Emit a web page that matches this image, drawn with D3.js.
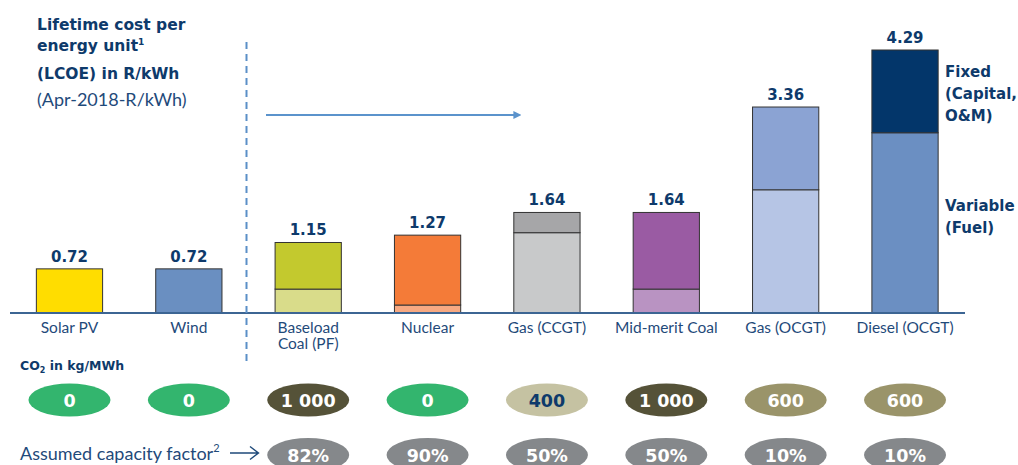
<!DOCTYPE html>
<html>
<head>
<meta charset="utf-8">
<script src="https://cdn.jsdelivr.net/npm/d3@7"></script>
<style>
  body { margin: 0; background: #fff; }
  svg text { font-family: Lato, "Open Sans", sans-serif; }
  svg text.heavy { font-family: "DejaVu Sans", sans-serif; font-weight: bold; }
</style>
</head>
<body>
<div id="chartEl"></div>
<script>
const categories = ['Solar PV', 'Wind', 'Baseload\nCoal (PF)', 'Nuclear', 'Gas (CCGT)', 'Mid-merit Coal', 'Gas (OCGT)', 'Diesel (OCGT)'];
const variableCost = [0, 0, 0.39, 0.13, 1.31, 0.39, 2.01, 2.94];
const fixedCost = [0.72, 0.72, 0.76, 1.14, 0.33, 1.25, 1.35, 1.35];
const totalLabels = ['0.72', '0.72', '1.15', '1.27', '1.64', '1.64', '3.36', '4.29'];
const fixedColors = ['#ffdd00', '#6a8fc1', '#c3c92e', '#f47b38', '#a6a6a8', '#9a5ba3', '#8ba3d3', '#03366a'];
const variableColors = ['#ffdd00', '#6a8fc1', '#d9dc8a', '#f7a982', '#c8c9ca', '#b993c2', '#b6c5e5', '#6b8fc2'];
const co2 = ['0', '0', '1 000', '0', '400', '1 000', '600', '600'];
const co2Colors = ['#33b56e', '#33b56e', '#555238', '#33b56e', '#c5c2a2', '#555238', '#9a946a', '#9a946a'];
const co2Text = ['#fff', '#fff', '#fff', '#fff', '#0e3a6b', '#fff', '#fff', '#fff'];
const capacity = [null, null, '82%', '90%', '50%', '50%', '10%', '10%'];

const width = 1018;
const height = 465;
const navy = '#0e3a6b';
const baseY = 313;

const svg = d3.select('#chartEl').append('svg')
  .attr('width', width)
  .attr('height', height);

const x = d3.scaleBand()
  .domain(d3.range(categories.length))
  .range([9.5, 965])
  .paddingInner(0.445)
  .paddingOuter(0.225);

const y = d3.scaleLinear()
  .domain([0, 4.29])
  .range([baseY, 50]);

// bars
const bar = svg.selectAll('.bar')
  .data(categories)
  .enter().append('g')
  .attr('class', 'bar');

bar.append('rect')
  .attr('x', (d, i) => x(i))
  .attr('y', (d, i) => y(variableCost[i]))
  .attr('width', x.bandwidth())
  .attr('height', (d, i) => baseY - y(variableCost[i]))
  .attr('fill', (d, i) => variableColors[i])
  .attr('stroke', '#333')
  .attr('stroke-width', 1);

bar.append('rect')
  .attr('x', (d, i) => x(i))
  .attr('y', (d, i) => y(variableCost[i] + fixedCost[i]))
  .attr('width', x.bandwidth())
  .attr('height', (d, i) => y(variableCost[i]) - y(variableCost[i] + fixedCost[i]))
  .attr('fill', (d, i) => fixedColors[i])
  .attr('stroke', '#333')
  .attr('stroke-width', 1);

bar.append('text')
  .attr('class', 'heavy')
  .attr('x', (d, i) => x(i) + x.bandwidth() / 2)
  .attr('y', (d, i) => y(variableCost[i] + fixedCost[i]) - 7)
  .attr('text-anchor', 'middle')
  .attr('font-size', 15)
  .attr('fill', navy)
  .text((d, i) => totalLabels[i]);

// axis line
svg.append('line')
  .attr('x1', 10).attr('x2', 965)
  .attr('y1', baseY).attr('y2', baseY)
  .attr('stroke', '#3c6593')
  .attr('stroke-width', 2);

// category labels
const cat = svg.selectAll('.cat')
  .data(categories)
  .enter().append('text')
  .attr('class', 'cat')
  .attr('text-anchor', 'middle')
  .attr('font-size', 15.5)
  .attr('fill', '#1f4a7a')
  .attr('transform', (d, i) => 'translate(' + (x(i) + x.bandwidth() / 2) + ',333)');

cat.selectAll('tspan')
  .data(d => d.split('\n'))
  .enter().append('tspan')
  .attr('x', 0)
  .attr('dy', (d, i) => i ? 16 : 0)
  .text(d => d);

// dashed separator
svg.append('line')
  .attr('x1', 246.5).attr('x2', 246.5)
  .attr('y1', 42).attr('y2', 366)
  .attr('stroke', '#5b8fc7')
  .attr('stroke-width', 2)
  .attr('stroke-dasharray', '7,5');

// arrow
svg.append('defs').append('marker')
  .attr('id', 'arr')
  .attr('viewBox', '0 0 10 10')
  .attr('refX', 2).attr('refY', 5)
  .attr('markerWidth', 4).attr('markerHeight', 4)
  .attr('orient', 'auto')
  .append('path')
  .attr('d', 'M0,0L10,5L0,10z')
  .attr('fill', '#5b93cc');

svg.append('line')
  .attr('x1', 266).attr('x2', 515)
  .attr('y1', 115).attr('y2', 115)
  .attr('stroke', '#5b93cc')
  .attr('stroke-width', 2)
  .attr('marker-end', 'url(#arr)');

// title
const title = svg.append('text')
  .attr('class', 'heavy')
  .attr('fill', navy)
  .attr('font-size', 15.5);
title.append('tspan').attr('x', 37).attr('y', 30).text('Lifetime cost per');
title.append('tspan').attr('x', 37).attr('y', 51).text('energy unit');
title.append('tspan').attr('font-size', 9).attr('dy', -6).text('1');
title.append('tspan').attr('x', 37).attr('y', 79).text('(LCOE) in R/kWh');

svg.append('text')
  .attr('x', 37).attr('y', 106)
  .attr('fill', '#1f4a7a')
  .attr('font-size', 18)
  .text('(Apr-2018-R/kWh)');

// legend
const legend = [['Fixed', 77], ['(Capital,', 99], ['O&M)', 121], ['Variable', 211], ['(Fuel)', 233]];
svg.selectAll('.leg')
  .data(legend)
  .enter().append('text')
  .attr('class', 'leg heavy')
  .attr('x', 945)
  .attr('y', d => d[1])
  .attr('fill', navy)
  .attr('font-size', 15)
  .text(d => d[0]);

// CO2 row
const co2Label = svg.append('text')
  .attr('class', 'heavy')
  .attr('x', 20).attr('y', 370)
  .attr('fill', navy)
  .attr('font-size', 12.5);
co2Label.append('tspan').text('CO');
co2Label.append('tspan').attr('font-size', 8).attr('dy', 3).text('2');
co2Label.append('tspan').attr('dy', -3).text(' in kg/MWh');

const pill = svg.selectAll('.co2')
  .data(co2)
  .enter().append('g')
  .attr('class', 'co2')
  .attr('transform', (d, i) => 'translate(' + (x(i) + x.bandwidth() / 2) + ',400)');

pill.append('ellipse')
  .attr('rx', 41).attr('ry', 16.5)
  .attr('fill', (d, i) => co2Colors[i]);

pill.append('text')
  .attr('class', 'heavy')
  .attr('text-anchor', 'middle')
  .attr('y', 6.5)
  .attr('font-size', 17.5)
  .attr('fill', (d, i) => co2Text[i])
  .text(d => d);

// capacity factor row
const capLabel = svg.append('text')
  .attr('x', 20).attr('y', 460)
  .attr('fill', '#1f4a7a')
  .attr('font-size', 18);
capLabel.append('tspan').text('Assumed capacity factor');
capLabel.append('tspan').attr('font-size', 11).attr('dy', -8).text('2');

svg.append('path')
  .attr('d', 'M230,453H258M250,446.5L258.5,453L250,459.5')
  .attr('fill', 'none')
  .attr('stroke', '#1f4a7a')
  .attr('stroke-width', 1.4);

const cap = svg.selectAll('.cap')
  .data(capacity.map((d, i) => [d, i]).filter(d => d[0]))
  .enter().append('g')
  .attr('class', 'cap')
  .attr('transform', d => 'translate(' + (x(d[1]) + x.bandwidth() / 2) + ',455)');

cap.append('ellipse')
  .attr('rx', 41).attr('ry', 17)
  .attr('fill', '#85888b');

cap.append('text')
  .attr('class', 'heavy')
  .attr('text-anchor', 'middle')
  .attr('y', 6.5)
  .attr('font-size', 17.5)
  .attr('fill', '#fff')
  .text(d => d[0]);
</script>
</body>
</html>
